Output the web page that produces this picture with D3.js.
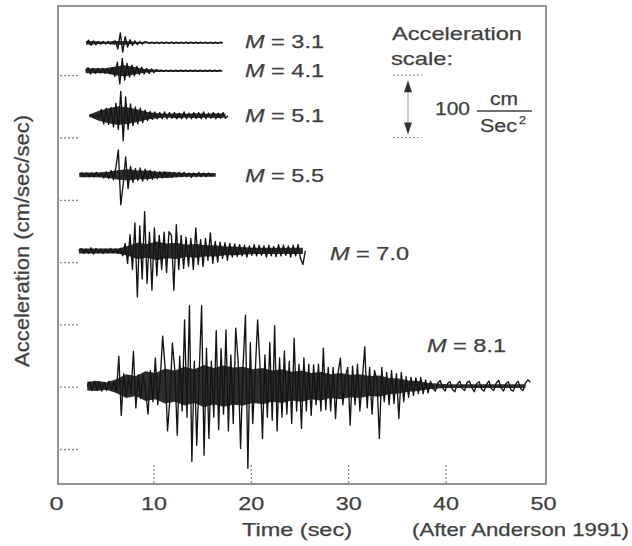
<!DOCTYPE html>
<html>
<head>
<meta charset="utf-8">
<script src="https://cdn.jsdelivr.net/npm/d3@7"></script>
<style>
  body { margin: 0; background: #fff; }
  svg { display: block; }
</style>
</head>
<body>
<svg id="chart" width="632" height="546"></svg>
<script>
// Ground-acceleration records for six earthquakes, sampled every 0.25 s (cm/sec²)
const magnitudes = ["3.1", "4.1", "5.1", "5.5", "7.0", "8.1"];
const startTimes = [3.1, 3.05, 3.4, 2.4, 2.35, 3.2];          // sec
const recordOffsets = [652, 607, 535, 440, 318, 101];        // vertical offset of each record, cm/sec²
const sampleStep = 0.25;                                     // sec

const accM31 = [0,4,-4,3,-3,2,-2,2,-2,2,-2,2,
  3,-10,16,-15,10,-7,5,-4,3,-3,2,-2,2,
  1,-1,1,-1,1,-1, 1,-1,1,-1,1,-1, 1,-1,1,-1,1,-1, 1,-1,1,-1,1,-1, 1,-1,1,-1,1,-1, 1,0];

const accM41 = [0,5,-5,4,-4,4,-3,4,-4,3,-4,5,
  -9,14,-21,20,-15,12,-10,9,
  -8,7,-6,6,-5,4,-4,3,-3,2,
  -1,1,-1,1,-1,1,-1,1,-1,1,-1,1,-1,1,-1,1,-1,1,-1,1,-1,1,-1,1,-1,1,0];

const accM51 = [0,2,-2,2,-3,
  10,-13,12,-14,13,
  -18,20,-22,39,-40,
  30,-22,19,-16,14,
  -13,12,-11,9,
  -8,7,-6,6,-5,5,-5,6,-5,5,
  -4,5,-5,4,-5,6,-5,4,-5,5,
  -4,5,-5,6,-5,4,-4,5,-5,4,
  -4,5,-4,0];

const accM55 = [0,3,-3,3,-3,3,-3,4,-3,3,
  -5,5,-6,7,-8,
  12,40,-48,-15,29,
  -22,14,-12,10,-9,
  11,-10,9,-8,7,
  -7,6,-6,5,-5,5,-4,4,-4,4,
  -3,4,-3,4,-3,3,-4,3,-3,4,-3,3,-3,3,-2,0];

const accM70 = [0,4,-4,3,-4,5,-5,4,-3,3,-4,3,-3,4,-3,3,-4,3,
  -8,12,-20,26,
  -30,45,-74,40,
  -45,63,-52,30,
  -63,37,-40,25,
  -30,30,-35,31,
  25,-63,42,-30,
  25,-28,22,-25,
  20,-30,37,-22,
  18,-25,20,-15,
  29,-20,15,-18,
  14,-12,13,-15,12,-10,11,-9,
  10,-8,9,-10,8,-7,10,-8,9,-7,8,-10,9,-8,7,-9,10,-8,9,-7,8,-10,9,-8,10,-12,-22,0];

const accM81 = [0,6,-7,8,-6,7,-8,6,-7,8,-6,7,
  -10,48,-47,20,-16,14,-12,56,-35,18,
  -20,18,-8,-45,25,-25,45,-30,10,80,
  30,-72,-20,69,25,-79,48,-40,106,-50,
  129,-121,40,-95,20,129,-111,61,-84,40,
  -50,89,-70,60,-45,90,-72,50,-60,93,
  40,-100,30,114,-132,70,-60,20,106,30,
  -84,50,-50,70,-55,97,-72,45,-50,56,
  -45,40,-60,77,-40,35,-68,45,-40,35,
  -47,34,-30,35,-40,61,-38,30,-40,30,
  -52,20,45,-30,15,30,-63,32,-30,35,
  -40,10,63,-35,30,-45,25,10,-84,30,
  -25,22,-30,25,-28,20,-52,22,-25,15,
  -18,14,-15,13,-12,14,-12,10,-11,
  8,-4,-8,5,9,-3,-8,4,7,-5,-9,3,8,-4,-7,6,8,-3,-9,4,7,-5,-8,3,
  8,-4,-7,5,9,-3,-8,4,7,-6,-8,3,8,-4,-7,5,10,6];

// Half-width of the dense high-frequency band of each record, one value per second (cm/sec²)
const bandStep = 1;
const bandM31 = [3, 2.5, 1.5, 3, 3, 1.5, 1, 1, 1, 1, 1, 1, 1, 1, 1];
const bandM41 = [4, 4, 4, 7, 9, 6, 3, 2, 1.5, 1.5, 1.5, 1.5, 1.5, 1.5, 1.5];
const bandM51 = [1.5, 8, 12, 15, 13, 10, 6, 4, 3, 4, 3, 4, 3, 4, 3];
const bandM55 = [4, 4, 4, 5, 8, 9, 7, 7, 5, 5, 4, 3, 3, 3, 3];
const bandM70 = [4, 4, 4, 4, 4, 8, 13, 11, 15, 12, 13, 10, 11, 9, 9, 7, 7, 6, 5, 5, 5, 5, 5, 5];
const bandM81 = [7, 8, 6, 11, 19, 16, 24, 21, 28, 25, 31, 27, 34, 29, 33, 30, 31, 27, 29, 25,
  27, 23, 25, 21, 23, 19, 21, 18, 19, 16, 17, 13, 12, 9, 8, 5, 4, 3, 3, 3, 3, 3, 3, 3, 3, 3];

const records = [accM31, accM41, accM51, accM55, accM70, accM81];
const bands = [bandM31, bandM41, bandM51, bandM55, bandM70, bandM81];

const timeTicks = [0, 10, 20, 30, 40, 50];
const timeMarks = [10, 20, 30, 40];
const accelTicks = [0, 100, 200, 300, 400, 500, 600];
const scaleBar = [600, 500];   // the 100 cm/sec² reference arrow

// ---------------------------------------------------------------------------
const svg = d3.select("#chart");
const font = "'Liberation Sans', Arial, Helvetica, sans-serif";
const ink = "#141414";
const textInk = "#404040";
const frameInk = "#7a7a7a";

const x = d3.scaleLinear().domain([0, 50]).range([56, 543]);
const y = d3.scaleLinear().domain([0, 600]).range([449, 75.2]);

// plot frame
svg.append("rect")
  .attr("x", 58).attr("y", 6).attr("width", 488).attr("height", 478)
  .attr("fill", "none").attr("stroke", frameInk).attr("stroke-width", 1.6);

// dotted ticks along the left edge
svg.append("g")
  .attr("transform", "translate(60,0)")
  .call(d3.axisLeft(y).tickValues(accelTicks).tickSize(-20).tickFormat(""))
  .call(g => g.select(".domain").remove())
  .call(g => g.selectAll(".tick line")
    .attr("stroke", "#8a8a8a").attr("stroke-width", 1.3).attr("stroke-dasharray", "2,2"));

// dotted ticks along the bottom edge
svg.append("g")
  .attr("transform", "translate(0,483)")
  .call(d3.axisBottom(x).tickValues(timeMarks).tickSize(-18).tickFormat(""))
  .call(g => g.select(".domain").remove())
  .call(g => g.selectAll(".tick line")
    .attr("stroke", "#8a8a8a").attr("stroke-width", 1.3).attr("stroke-dasharray", "2,2"));

// time labels
svg.append("g")
  .call(d3.axisBottom(x).tickValues(timeTicks).tickSize(0).tickFormat(d3.format("d")))
  .call(g => g.select(".domain").remove())
  .call(g => g.selectAll(".tick text")
    .attr("y", 510).attr("dy", null)
    .attr("font-family", font).attr("font-size", 18).attr("fill", textInk)
    .attr("stroke", textInk).attr("stroke-width", 0.25)
    .attr("textLength", d => d === 0 ? 14 : 26).attr("lengthAdjust", "spacingAndGlyphs"));

// accelerograms: dense band underneath, sampled trace on top
const band = d3.area()
  .x(d => d.px).y0(d => d.lo).y1(d => d.hi)
  .curve(d3.curveLinear);
const line = d3.line().curve(d3.curveLinear);

records.forEach((acc, k) => {
  const base = recordOffsets[k];
  const bandPts = bands[k].map((h, i) => ({
    px: x(startTimes[k] + i * bandStep),
    hi: y(base + h),
    lo: y(base - h)
  }));
  svg.append("path")
    .attr("d", band(bandPts))
    .attr("fill", "#161616")
    .attr("fill-opacity", 0.9);

  svg.append("path")
    .attr("d", line(acc.map((a, i) => [x(startTimes[k] + i * sampleStep), y(base + a)])))
    .attr("fill", "none")
    .attr("stroke", ink)
    .attr("stroke-width", 1.35)
    .attr("stroke-linejoin", "round");
});

// helper for stretched text
function label(px, py, parts, len, size = 19, anchor = "start") {
  const t = svg.append("text")
    .attr("x", px).attr("y", py)
    .attr("font-family", font).attr("font-size", size)
    .attr("fill", textInk).attr("stroke", textInk).attr("stroke-width", 0.25)
    .attr("text-anchor", anchor);
  if (len) t.attr("textLength", len).attr("lengthAdjust", "spacingAndGlyphs");
  parts.forEach(p => t.append("tspan").attr("font-style", p.italic ? "italic" : "normal").text(p.s));
  return t;
}

// magnitude labels
const magLabelPos = [[245, 48], [245, 77], [245, 122], [245, 182], [330, 260], [427, 352]];
magnitudes.forEach((m, k) => {
  label(magLabelPos[k][0], magLabelPos[k][1],
    [{ s: "M", italic: true }, { s: " = " + m }], 79, 19);
});

// acceleration scale key
label(392, 40, [{ s: "Acceleration" }], 130, 19);
label(391, 65, [{ s: "scale:" }], 62, 19);

const barX = 408;
const yTop = y(scaleBar[0]), yBot = y(scaleBar[1]);
[yTop, yBot].forEach(yy => {
  svg.append("line")
    .attr("x1", 393).attr("x2", 422).attr("y1", yy).attr("y2", yy)
    .attr("stroke", "#9a9a9a").attr("stroke-width", 1.2).attr("stroke-dasharray", "2,2");
});
svg.append("line")
  .attr("x1", barX).attr("x2", barX).attr("y1", yTop + 14).attr("y2", yBot - 12)
  .attr("stroke", "#aaa").attr("stroke-width", 1.2);
svg.append("path")
  .attr("d", `M${barX},${yTop + 5} L${barX - 4},${yTop + 17} L${barX + 4},${yTop + 17} Z`)
  .attr("fill", "#333");
svg.append("path")
  .attr("d", `M${barX},${yBot - 3} L${barX - 4},${yBot - 15} L${barX + 4},${yBot - 15} Z`)
  .attr("fill", "#333");

label(435, 115, [{ s: "100" }], 35, 19);
label(490, 105, [{ s: "cm" }], 28, 19);
svg.append("line")
  .attr("x1", 477).attr("x2", 532).attr("y1", 111).attr("y2", 111)
  .attr("stroke", textInk).attr("stroke-width", 1.5);
label(480, 132, [{ s: "Sec" }], 37, 19);
label(519, 124, [{ s: "2" }], 7, 11);

// axis titles
label(297, 536, [{ s: "Time (sec)" }], 110, 19, "middle");
label(412, 536, [{ s: "(After Anderson 1991)" }], 217, 19);

svg.append("text")
  .attr("transform", "translate(29,241) rotate(-90)")
  .attr("text-anchor", "middle")
  .attr("font-family", font).attr("font-size", 20).attr("fill", textInk)
  .attr("stroke", textInk).attr("stroke-width", 0.25)
  .attr("textLength", 252).attr("lengthAdjust", "spacingAndGlyphs")
  .text("Acceleration (cm/sec/sec)");
</script>
</body>
</html>
